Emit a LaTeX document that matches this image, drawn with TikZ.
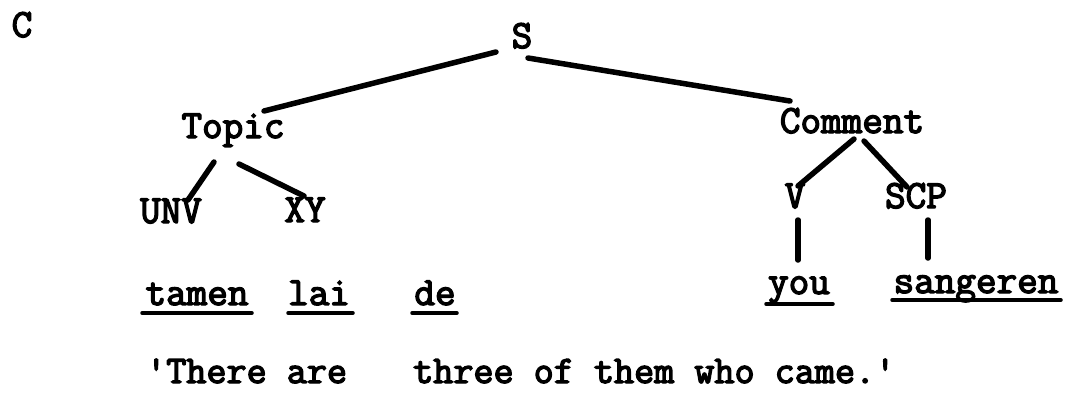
\documentclass[tikz,border=0pt]{standalone}
\usepackage{fontspec}
\newfontfamily\tw{Latin Modern Mono}[RawFeature={embolden=3.5}]
\begin{document}
\begin{tikzpicture}[x=1pt,y=-1pt,
  lbl/.style={font={\tw\fontsize{40}{44}\selectfont}, inner sep=0pt, anchor=base},
  trl/.style={font={\tw\fontsize{39}{44}\selectfont}, inner sep=0pt, anchor=base west},
  edge/.style={line width=5.5pt, line cap=round},
  uline/.style={line width=3.5pt, line cap=round}]
\useasboundingbox (0,0) rectangle (1068,394);
% labels
\node[lbl] (C) at (22,37) {C};
\node[lbl] (S) at (522,48) {S};
\node[lbl] (Topic) at (233,138) {Topic};
\node[lbl] (Comment) at (852,133) {Comment};
\node[lbl] (UNV) at (171,223) {UNV};
\node[lbl] (XY) at (305,222) {XY};
\node[lbl] (V) at (795,208) {V};
\node[lbl] (SCP) at (916,208) {SCP};
\node[lbl] (tamen) at (197,305) {tamen};
\node[lbl] (lai) at (319,305) {lai};
\node[lbl] (de) at (435,305) {de};
\node[lbl] (you) at (799,294) {you};
\node[lbl] (sangeren) at (976,293) {sangeren};
\node[trl] (tr1) at (146,383) {'There are};
\node[trl] (tr2) at (413,383) {three of them who came.'};
% tree edges
\draw[edge] ([shift={(-26,4)}]S.base) -- ([shift={(31,-27)}]Topic.base);
\draw[edge] ([shift={(6,10)}]S.base) -- ([shift={(-62,-32)}]Comment.base);
\draw[edge] ([shift={(-19,24)}]Topic.base) -- ([shift={(17,-23)}]UNV.base);
\draw[edge] ([shift={(6,26)}]Topic.base) -- ([shift={(-1,-26)}]XY.base);
\draw[edge] ([shift={(2,6)}]Comment.base) -- ([shift={(3,-22)}]V.base);
\draw[edge] ([shift={(12,8)}]Comment.base) -- ([shift={(-9,-21)}]SCP.base);
\draw[edge] ([shift={(3,12)}]V.base) -- ([shift={(-1,-34)}]you.base);
\draw[edge] ([shift={(12,12)}]SCP.base) -- ([shift={(-48,-35)}]sangeren.base);
% underlines
\draw[uline] ([shift={(-55,8)}]tamen.base) -- ([shift={(55,8)}]tamen.base);
\draw[uline] ([shift={(-31,8)}]lai.base) -- ([shift={(34,8)}]lai.base);
\draw[uline] ([shift={(-23,8)}]de.base) -- ([shift={(22,8)}]de.base);
\draw[uline] ([shift={(-33,10)}]you.base) -- ([shift={(34,10)}]you.base);
\draw[uline] ([shift={(-84,7)}]sangeren.base) -- ([shift={(85,7)}]sangeren.base);
\end{tikzpicture}
\end{document}
